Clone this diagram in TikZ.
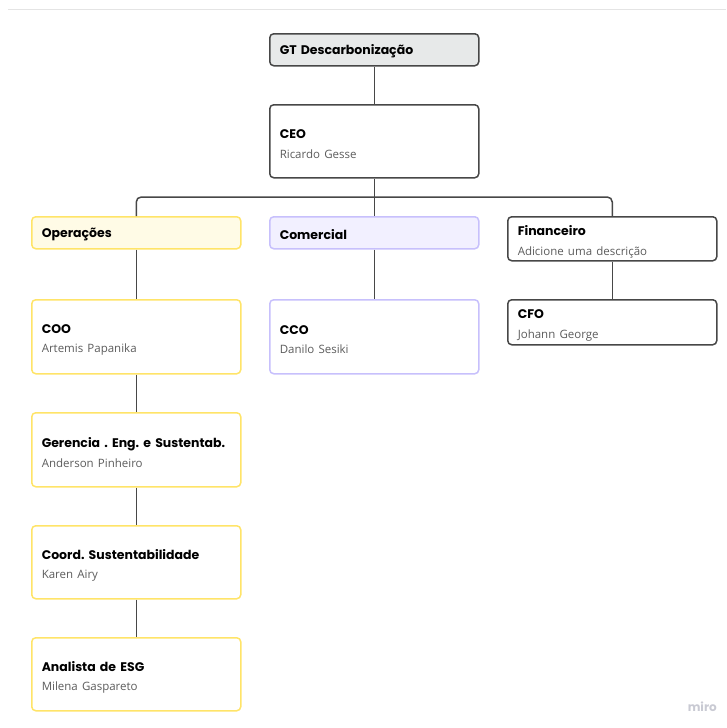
\documentclass[tikz,border=0pt]{standalone}
\usepackage{fontspec}
\setmainfont{Open Sans}
\newfontfamily\titlefont{Poppins}[BoldFont={Poppins Bold}]
\frenchspacing
\definecolor{edgegray}{HTML}{474747}
\definecolor{gtfill}{HTML}{E7E9E9}
\definecolor{yelborder}{HTML}{FFE468}
\definecolor{yelfill}{HTML}{FFFBE6}
\definecolor{lavborder}{HTML}{C7C0FC}
\definecolor{lavfill}{HTML}{F2F0FF}
\definecolor{namegray}{HTML}{5C5C5C}
\definecolor{topline}{HTML}{E4E4E4}
\definecolor{mirogray}{HTML}{C9CAD3}
\newcommand{\twoline}[2]{\raisebox{-3pt}[\height][\depth]{\parbox[c]{189pt}{\raggedright #1\\[5.5pt]{\fontsize{11.5}{13}\selectfont\normalfont\color{namegray}#2}}}}
\newcommand{\oneline}[1]{\raisebox{-1.8pt}[\height][\depth]{#1}}
\begin{document}
\begin{tikzpicture}[x=1pt,y=-1pt,
  box/.style={rectangle, rounded corners=4pt, line width=1.5pt, minimum width=209pt,
    text width=189pt, align=left, inner xsep=10pt, inner ysep=0pt, anchor=north west,
    font=\titlefont\fontsize{12.5}{14}\selectfont\bfseries\frenchspacing},
  graybox/.style={box, draw=edgegray},
  yelbox/.style={box, draw=yelborder},
  lavbox/.style={box, draw=lavborder},
  conn/.style={draw=edgegray, line width=1.5pt, rounded corners=5pt}
]
\useasboundingbox (0,0) rectangle (726,728);
\draw[topline, line width=1pt] (8,9.5) -- (726,9.5);

\node[graybox, fill=gtfill, minimum height=32pt] (gt) at (269,33) {\oneline{GT Descarbonização}};
\node[graybox, fill=white, minimum height=73pt] (ceo) at (269,104) {\twoline{CEO}{Ricardo Gesse}};

\node[yelbox, fill=yelfill, minimum height=32pt] (ops) at (31,216) {\oneline{Operações}};
\node[lavbox, fill=lavfill, minimum height=32pt] (com) at (269,216) {\oneline{Comercial}};
\node[graybox, fill=white, minimum height=44pt] (fin) at (507,216) {\twoline{Financeiro}{Adicione uma descrição}};

\node[yelbox, fill=white, minimum height=74pt] (coo) at (31,299) {\twoline{COO}{Artemis Papanika}};
\node[lavbox, fill=white, minimum height=74pt] (cco) at (269,299) {\twoline{CCO}{Danilo Sesiki}};
\node[graybox, fill=white, minimum height=45pt] (cfo) at (507,299) {\twoline{CFO}{Johann George}};

\node[yelbox, fill=white, minimum height=74pt] (ger) at (31,412) {\twoline{Gerencia . Eng. e Sustentab.}{Anderson Pinheiro}};
\node[yelbox, fill=white, minimum height=73pt] (coord) at (31,525) {\twoline{Coord. Sustentabilidade}{Karen Airy}};
\node[yelbox, fill=white, minimum height=73pt] (ana) at (31,637) {\twoline{Analista de ESG}{Milena Gaspareto}};

\coordinate (bus) at (ceo.south |- 0,197);

\path[conn] (gt) -- (ceo);
\path[conn] (ceo) -- (com);
\path[conn] (ops.north) |- (bus) -| (fin.north);
\path[conn] (ops) -- (coo);
\path[conn] (coo) -- (ger);
\path[conn] (ger) -- (coord);
\path[conn] (coord) -- (ana);
\path[conn] (com) -- (cco);
\path[conn] (fin) -- (cfo);

\node[anchor=east, inner sep=0pt, font=\titlefont\fontsize{12}{13}\selectfont\bfseries, text=mirogray] (miro) at (717,707) {miro};
\end{tikzpicture}
\end{document}
